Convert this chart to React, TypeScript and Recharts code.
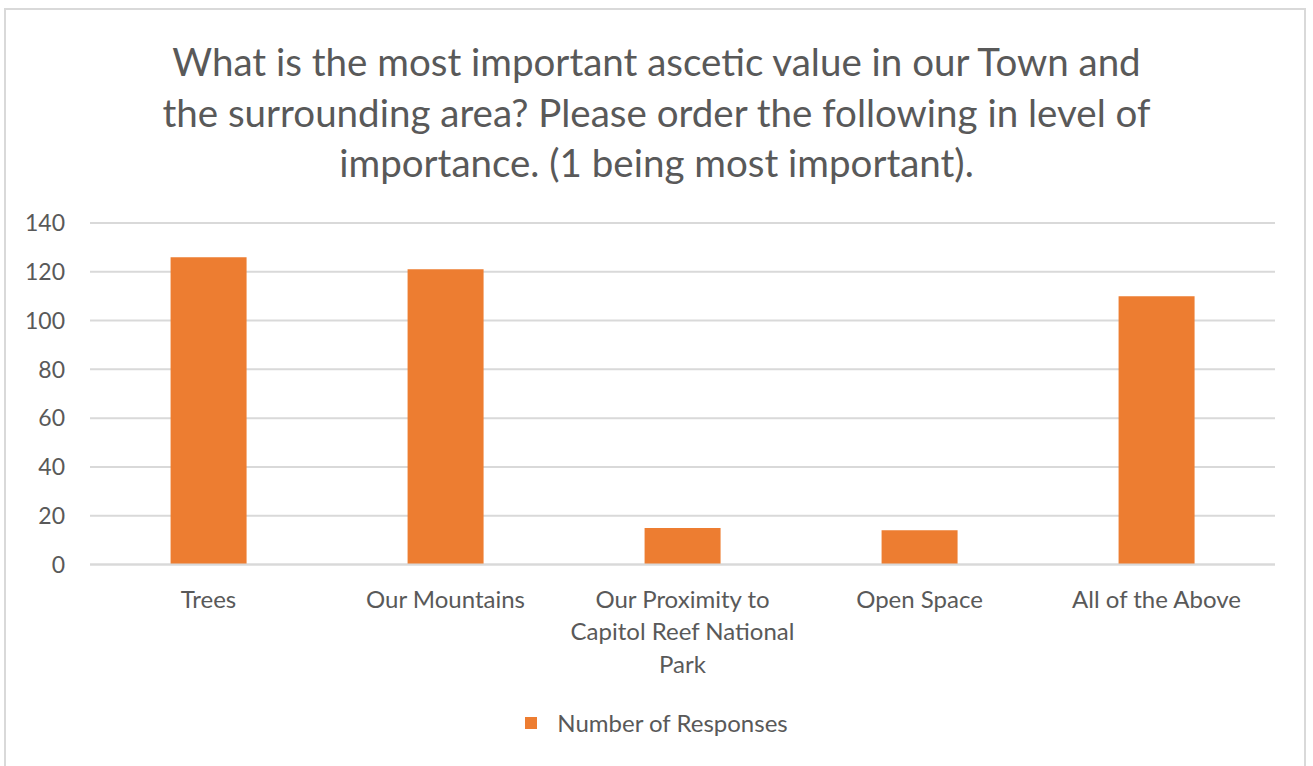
import { BarChart, Bar, XAxis, YAxis, CartesianGrid, Legend } from "recharts";

const categories = [
  "Trees",
  "Our Mountains",
  "Our Proximity to Capitol Reef National Park",
  "Open Space",
  "All of the Above",
];
const responses = [126, 121, 15, 14, 110];
const yTicks = [0, 20, 40, 60, 80, 100, 120, 140];
const titleLines = [
  "What is the most important ascetic value in our Town and",
  "the surrounding area? Please order the following in level of",
  "importance. (1 being most important).",
];
const seriesName = "Number of Responses";

const tickLines: Record<string, string[]> = {
  "Our Proximity to Capitol Reef National Park": [
    "Our Proximity to",
    "Capitol Reef National",
    "Park",
  ],
};

const FONT = "Lato, 'Open Sans', sans-serif";
const TEXT = "#595959";
const ORANGE = "#ED7D31";
const GRID = "#d9d9d9";

function CategoryTick(props: any) {
  const { x, y, payload } = props;
  const lines = tickLines[payload.value] || [payload.value];
  return (
    <text x={x} y={y} textAnchor="middle" fill={TEXT} fontSize={24} fontFamily={FONT}>
      {lines.map((l, i) => (
        <tspan key={i} x={x} dy={i === 0 ? 19 : 32.5}>
          {l}
        </tspan>
      ))}
    </text>
  );
}

function LegendContent() {
  return (
    <div
      style={{
        display: "flex",
        justifyContent: "center",
        alignItems: "center",
        fontFamily: FONT,
        fontSize: 24,
        color: TEXT,
      }}
    >
      <span style={{ width: 12, height: 12, background: ORANGE, display: "inline-block", marginRight: 20 }} />
      {seriesName}
    </div>
  );
}

export default function App() {
  const data = categories.map((c, i) => ({ name: c, value: responses[i] }));

  return (
    <div style={{ position: "fixed", left: 0, top: 0, width: 1313, height: 766, background: "#fff" }}>
      <div
        style={{
          position: "absolute",
          left: 4,
          top: 8,
          width: 1302,
          height: 780,
          border: "2px solid #d9d9d9",
          boxSizing: "border-box",
        }}
      />
      <div
        style={{
          position: "absolute",
          left: 0,
          top: 36,
          width: 1313,
          textAlign: "center",
          fontFamily: FONT,
          fontSize: 38.5,
          lineHeight: "50.5px",
          color: TEXT,
        }}
      >
        {titleLines.map((t, i) => (
          <div key={i}>{t}</div>
        ))}
      </div>
      <div style={{ position: "absolute", left: 0, top: 0 }}>
        <BarChart
          width={1313}
          height={766}
          data={data}
          margin={{ top: 223, right: 38, bottom: 0, left: 0 }}
          barCategoryGap="34%"
        >
          <CartesianGrid vertical={false} stroke={GRID} strokeWidth={2} />
          <XAxis
            dataKey="name"
            height={172.5}
            tickLine={false}
            axisLine={{ stroke: GRID, strokeWidth: 2 }}
            tick={<CategoryTick />}
            tickMargin={18}
            interval={0}
          />
          <YAxis
            width={90}
            domain={[0, 140]}
            ticks={yTicks}
            axisLine={false}
            tickLine={false}
            tickSize={0}
            tickMargin={25}
            tick={{ fill: TEXT, fontSize: 23, fontFamily: FONT }}
          />
          <Legend content={<LegendContent />} wrapperStyle={{ top: 708, left: 0, width: 1313 }} />
          <Bar dataKey="value" name={seriesName} fill={ORANGE} isAnimationActive={false} />
        </BarChart>
      </div>
    </div>
  );
}
